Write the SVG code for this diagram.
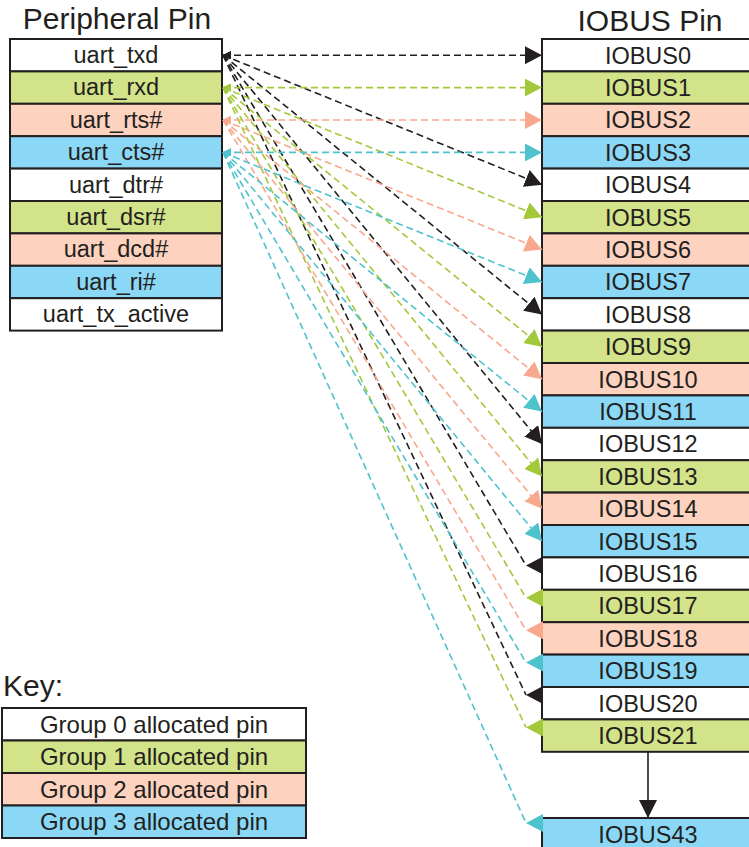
<svg xmlns="http://www.w3.org/2000/svg" width="749" height="847" viewBox="0 0 749 847">
<style>
.cell{stroke:#231f20;stroke-width:2}
.w{fill:#ffffff}.g{fill:#d3e389}.s{fill:#fdd2bf}.b{fill:#8ad8f6}
.t{font-family:"Liberation Sans",Arial,sans-serif;font-size:23.5px;fill:#231f20;text-anchor:middle}
.kt{font-size:24px}
.title{font-family:"Liberation Sans",Arial,sans-serif;font-size:30px;fill:#231f20}
.ln{fill:none;stroke-width:1.6;stroke-dasharray:7 4}
.k{stroke:#231f20}.gr{stroke:#a3c93a}.sa{stroke:#f8a88c}.cy{stroke:#4ec3ce}
</style>
<defs>
<marker id="ek" markerUnits="userSpaceOnUse" markerWidth="17" markerHeight="18" refX="17" refY="9" orient="auto"><path d="M0,0 L17,9 L0,18 z" fill="#231f20"/></marker>
<marker id="eg" markerUnits="userSpaceOnUse" markerWidth="17" markerHeight="18" refX="17" refY="9" orient="auto"><path d="M0,0 L17,9 L0,18 z" fill="#a3c93a"/></marker>
<marker id="es" markerUnits="userSpaceOnUse" markerWidth="17" markerHeight="18" refX="17" refY="9" orient="auto"><path d="M0,0 L17,9 L0,18 z" fill="#f8a88c"/></marker>
<marker id="ec" markerUnits="userSpaceOnUse" markerWidth="17" markerHeight="18" refX="17" refY="9" orient="auto"><path d="M0,0 L17,9 L0,18 z" fill="#4ec3ce"/></marker>
<marker id="lk" markerUnits="userSpaceOnUse" markerWidth="17" markerHeight="18" refX="17" refY="9" orient="180"><path d="M0,0 L17,9 L0,18 z" fill="#231f20"/></marker>
<marker id="lg" markerUnits="userSpaceOnUse" markerWidth="17" markerHeight="18" refX="17" refY="9" orient="180"><path d="M0,0 L17,9 L0,18 z" fill="#a3c93a"/></marker>
<marker id="ls" markerUnits="userSpaceOnUse" markerWidth="17" markerHeight="18" refX="17" refY="9" orient="180"><path d="M0,0 L17,9 L0,18 z" fill="#f8a88c"/></marker>
<marker id="lc" markerUnits="userSpaceOnUse" markerWidth="17" markerHeight="18" refX="17" refY="9" orient="180"><path d="M0,0 L17,9 L0,18 z" fill="#4ec3ce"/></marker>
<marker id="sk" markerUnits="userSpaceOnUse" markerWidth="8" markerHeight="8" refX="8" refY="4" orient="180"><path d="M0,0 L8,4 L0,8 z" fill="#231f20"/></marker>
<marker id="sg" markerUnits="userSpaceOnUse" markerWidth="8" markerHeight="8" refX="8" refY="4" orient="180"><path d="M0,0 L8,4 L0,8 z" fill="#a3c93a"/></marker>
<marker id="ss" markerUnits="userSpaceOnUse" markerWidth="8" markerHeight="8" refX="8" refY="4" orient="180"><path d="M0,0 L8,4 L0,8 z" fill="#f8a88c"/></marker>
<marker id="sc" markerUnits="userSpaceOnUse" markerWidth="8" markerHeight="8" refX="8" refY="4" orient="180"><path d="M0,0 L8,4 L0,8 z" fill="#4ec3ce"/></marker>
<marker id="va" markerUnits="userSpaceOnUse" markerWidth="18" markerHeight="18" refX="18" refY="9" orient="auto"><path d="M0,0 L18,9 L0,18 z" fill="#231f20"/></marker>
</defs>
<rect width="749" height="847" fill="#ffffff"/>
<text class="title" x="117" y="29" text-anchor="middle">Peripheral Pin</text>
<text class="title" x="650" y="31" text-anchor="middle">IOBUS Pin</text>
<g id="peripheral">
<g id="p-uart_txd"><rect class="cell w" x="10" y="39" width="212" height="32.4"/><text class="t" x="116" y="63">uart_txd</text></g>
<g id="p-uart_rxd"><rect class="cell g" x="10" y="71.4" width="212" height="32.4"/><text class="t" x="116" y="95.4">uart_rxd</text></g>
<g id="p-uart_rts"><rect class="cell s" x="10" y="103.8" width="212" height="32.4"/><text class="t" x="116" y="127.8">uart_rts#</text></g>
<g id="p-uart_cts"><rect class="cell b" x="10" y="136.2" width="212" height="32.4"/><text class="t" x="116" y="160.2">uart_cts#</text></g>
<g id="p-uart_dtr"><rect class="cell w" x="10" y="168.6" width="212" height="32.4"/><text class="t" x="116" y="192.6">uart_dtr#</text></g>
<g id="p-uart_dsr"><rect class="cell g" x="10" y="201" width="212" height="32.4"/><text class="t" x="116" y="225">uart_dsr#</text></g>
<g id="p-uart_dcd"><rect class="cell s" x="10" y="233.4" width="212" height="32.4"/><text class="t" x="116" y="257.4">uart_dcd#</text></g>
<g id="p-uart_ri"><rect class="cell b" x="10" y="265.8" width="212" height="32.4"/><text class="t" x="116" y="289.8">uart_ri#</text></g>
<g id="p-uart_tx_active"><rect class="cell w" x="10" y="298.2" width="212" height="32.4"/><text class="t" x="116" y="322.2">uart_tx_active</text></g>
</g>
<g id="iobus">
<g id="io0"><rect class="cell w" x="542" y="39" width="212" height="32.4"/><text class="t" x="648" y="63.5">IOBUS0</text></g>
<g id="io1"><rect class="cell g" x="542" y="71.4" width="212" height="32.4"/><text class="t" x="648" y="95.9">IOBUS1</text></g>
<g id="io2"><rect class="cell s" x="542" y="103.8" width="212" height="32.4"/><text class="t" x="648" y="128.3">IOBUS2</text></g>
<g id="io3"><rect class="cell b" x="542" y="136.2" width="212" height="32.4"/><text class="t" x="648" y="160.7">IOBUS3</text></g>
<g id="io4"><rect class="cell w" x="542" y="168.6" width="212" height="32.4"/><text class="t" x="648" y="193.1">IOBUS4</text></g>
<g id="io5"><rect class="cell g" x="542" y="201" width="212" height="32.4"/><text class="t" x="648" y="225.5">IOBUS5</text></g>
<g id="io6"><rect class="cell s" x="542" y="233.4" width="212" height="32.4"/><text class="t" x="648" y="257.9">IOBUS6</text></g>
<g id="io7"><rect class="cell b" x="542" y="265.8" width="212" height="32.4"/><text class="t" x="648" y="290.3">IOBUS7</text></g>
<g id="io8"><rect class="cell w" x="542" y="298.2" width="212" height="32.4"/><text class="t" x="648" y="322.7">IOBUS8</text></g>
<g id="io9"><rect class="cell g" x="542" y="330.6" width="212" height="32.4"/><text class="t" x="648" y="355.1">IOBUS9</text></g>
<g id="io10"><rect class="cell s" x="542" y="363" width="212" height="32.4"/><text class="t" x="648" y="387.5">IOBUS10</text></g>
<g id="io11"><rect class="cell b" x="542" y="395.4" width="212" height="32.4"/><text class="t" x="648" y="419.9">IOBUS11</text></g>
<g id="io12"><rect class="cell w" x="542" y="427.8" width="212" height="32.4"/><text class="t" x="648" y="452.3">IOBUS12</text></g>
<g id="io13"><rect class="cell g" x="542" y="460.2" width="212" height="32.4"/><text class="t" x="648" y="484.7">IOBUS13</text></g>
<g id="io14"><rect class="cell s" x="542" y="492.6" width="212" height="32.4"/><text class="t" x="648" y="517.1">IOBUS14</text></g>
<g id="io15"><rect class="cell b" x="542" y="525" width="212" height="32.4"/><text class="t" x="648" y="549.5">IOBUS15</text></g>
<g id="io16"><rect class="cell w" x="542" y="557.4" width="212" height="32.4"/><text class="t" x="648" y="581.9">IOBUS16</text></g>
<g id="io17"><rect class="cell g" x="542" y="589.8" width="212" height="32.4"/><text class="t" x="648" y="614.3">IOBUS17</text></g>
<g id="io18"><rect class="cell s" x="542" y="622.2" width="212" height="32.4"/><text class="t" x="648" y="646.7">IOBUS18</text></g>
<g id="io19"><rect class="cell b" x="542" y="654.6" width="212" height="32.4"/><text class="t" x="648" y="679.1">IOBUS19</text></g>
<g id="io20"><rect class="cell w" x="542" y="687" width="212" height="32.4"/><text class="t" x="648" y="711.5">IOBUS20</text></g>
<g id="io21"><rect class="cell g" x="542" y="719.4" width="212" height="32.4"/><text class="t" x="648" y="743.9">IOBUS21</text></g>
<g id="io43"><rect class="cell b" x="542" y="818" width="212" height="32.4"/><text class="t" x="648" y="842.5">IOBUS43</text></g>
</g>
<g id="key">
<text class="title" x="3" y="696">Key:</text>
<g id="key0"><rect class="cell w" x="2" y="708" width="304" height="32.5"/><text class="t kt" x="154" y="732.5">Group 0 allocated pin</text></g>
<g id="key1"><rect class="cell g" x="2" y="740.5" width="304" height="32.5"/><text class="t kt" x="154" y="765">Group 1 allocated pin</text></g>
<g id="key2"><rect class="cell s" x="2" y="773" width="304" height="32.5"/><text class="t kt" x="154" y="797.5">Group 2 allocated pin</text></g>
<g id="key3"><rect class="cell b" x="2" y="805.5" width="304" height="32.5"/><text class="t kt" x="154" y="830">Group 3 allocated pin</text></g>
</g>
<g id="connectors">
<path class="ln k" d="M223,55.2 L542,55.2" marker-start="url(#sk)" marker-end="url(#ek)"/>
<path class="ln k" d="M223,55.2 L542,184.8" marker-start="url(#sk)" marker-end="url(#ek)"/>
<path class="ln k" d="M223,55.2 L542,314.4" marker-start="url(#sk)" marker-end="url(#ek)"/>
<path class="ln k" d="M223,55.2 L542,444" marker-start="url(#sk)" marker-end="url(#ek)"/>
<path class="ln k" d="M223,55.2 L526,565.4" marker-start="url(#sk)" marker-end="url(#lk)"/>
<path class="ln k" d="M223,55.2 L526,695" marker-start="url(#sk)" marker-end="url(#lk)"/>
<path class="ln gr" d="M223,87.6 L542,87.6" marker-start="url(#sg)" marker-end="url(#eg)"/>
<path class="ln gr" d="M223,87.6 L542,217.2" marker-start="url(#sg)" marker-end="url(#eg)"/>
<path class="ln gr" d="M223,87.6 L542,346.8" marker-start="url(#sg)" marker-end="url(#eg)"/>
<path class="ln gr" d="M223,87.6 L542,476.4" marker-start="url(#sg)" marker-end="url(#eg)"/>
<path class="ln gr" d="M223,87.6 L526,597.8" marker-start="url(#sg)" marker-end="url(#lg)"/>
<path class="ln gr" d="M223,87.6 L526,727.4" marker-start="url(#sg)" marker-end="url(#lg)"/>
<path class="ln sa" d="M223,120 L542,120" marker-start="url(#ss)" marker-end="url(#es)"/>
<path class="ln sa" d="M223,120 L542,249.6" marker-start="url(#ss)" marker-end="url(#es)"/>
<path class="ln sa" d="M223,120 L542,379.2" marker-start="url(#ss)" marker-end="url(#es)"/>
<path class="ln sa" d="M223,120 L542,508.8" marker-start="url(#ss)" marker-end="url(#es)"/>
<path class="ln sa" d="M223,120 L526,630.2" marker-start="url(#ss)" marker-end="url(#ls)"/>
<path class="ln cy" d="M223,152.4 L542,152.4" marker-start="url(#sc)" marker-end="url(#ec)"/>
<path class="ln cy" d="M223,152.4 L542,282" marker-start="url(#sc)" marker-end="url(#ec)"/>
<path class="ln cy" d="M223,152.4 L542,411.6" marker-start="url(#sc)" marker-end="url(#ec)"/>
<path class="ln cy" d="M223,152.4 L542,541.2" marker-start="url(#sc)" marker-end="url(#ec)"/>
<path class="ln cy" d="M223,152.4 L526,662.6" marker-start="url(#sc)" marker-end="url(#lc)"/>
<path class="ln cy" d="M223,152.4 L526,823" marker-start="url(#sc)" marker-end="url(#lc)"/>
<path d="M648,752 L648,818" fill="none" stroke="#231f20" stroke-width="1.6" marker-end="url(#va)"/>
</g>
</svg>
